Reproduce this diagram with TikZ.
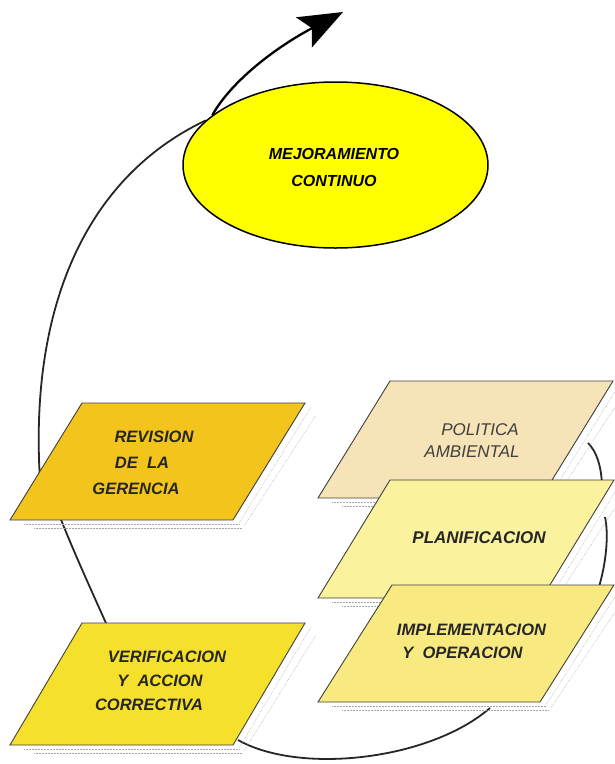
\documentclass[tikz,border=0pt]{standalone}
\usepackage{fontspec}
\setmainfont{Liberation Sans}
\usetikzlibrary{arrows.meta,shapes.geometric,backgrounds}
\definecolor{mejc}{HTML}{FFFF00}
\definecolor{revc}{HTML}{F2C41C}
\definecolor{verc}{HTML}{F5E02C}
\definecolor{polc}{HTML}{F6E4B8}
\definecolor{plac}{HTML}{FAF29C}
\definecolor{impc}{HTML}{F8EA80}
% #1 bottom-left x, #2 bottom y, #3 top-left x, #4 top y, #5 width, #6 fill
\newcommand\pgram[6]{%
  \draw[shd] (#1+#5+6,#2+3) -- (#3+#5+6,#4+4);
  \draw[shd] (#1+#5+11,#2+6) -- (#3+#5+11,#4+12);
  \draw[shd] (#1+14,#2+4) -- (#1+#5+6,#2+4);
  \draw[shd] (#1+24,#2+8) -- (#1+#5+9,#2+8);
  \filldraw[boxline,fill=#6] (#1,#2) -- (#1+#5,#2) -- (#3+#5,#4) -- (#3,#4) -- cycle;
}
\begin{document}
\begin{tikzpicture}[x=1pt,y=-1pt,
  shd/.style={gray!70,densely dotted,line width=0.5pt},
  boxline/.style={draw=black!75,line width=0.9pt},
  txt/.style={align=center,inner sep=0pt,text=black!85},
  loop/.style={line width=1.8pt,black!85},
  mejstyle/.style={ellipse,draw=black,line width=1.5pt,fill=mejc,
    minimum width=305pt,minimum height=166pt,inner sep=0pt}]
\useasboundingbox (0,0) rectangle (615,764);

% ---- boxes ----
\pgram{318}{498}{390}{381}{223}{polc}
\pgram{318}{598}{390}{480}{224}{plac}
\pgram{318}{702}{392}{585}{222}{impc}
\pgram{10}{520}{82}{403}{223}{revc}
\pgram{10}{745}{82}{623}{223}{verc}

% ---- texts ----
\node[txt,text=black!75,font=\itshape\fontsize{17}{22}\selectfont] (pol) at (476,441)
  {\rule{8pt}{0pt}POLITICA\\AMBIENTAL\rule{8pt}{0pt}};
\node[txt,font=\bfseries\itshape\fontsize{17}{24}\selectfont] (pla) at (479,538)
  {PLANIFICACION};
\node[txt,font=\bfseries\itshape\fontsize{16.5}{23}\selectfont] (imp) at (467,641)
  {\rule{9pt}{0pt}IMPLEMENTACION\\Y~~OPERACION\rule{9pt}{0pt}};
\node[txt,font=\bfseries\itshape\fontsize{16.5}{26}\selectfont] (rev) at (142,463)
  {\rule{24pt}{0pt}REVISION\\DE~~LA\\GERENCIA\rule{12pt}{0pt}};
\node[txt,font=\bfseries\itshape\fontsize{16.5}{24}\selectfont] (ver) at (160,681)
  {\rule{14pt}{0pt}VERIFICACION\\Y~~ACCION\\CORRECTIVA\rule{22pt}{0pt}};

% ---- ellipse ----
\node[mejstyle] (mej) at (335.5,165) {};
\node[txt,text=black,font=\bfseries\itshape\fontsize{16}{27}\selectfont] (mejt) at (334,167)
  {MEJORAMIENTO\\CONTINUO};

% ---- coordinates for connector ends ----
\coordinate (tip) at (343,12);
\coordinate (rev-in) at (42,505);
\coordinate (rev-b) at (58,512);
\coordinate (ver-t) at (110,632);
\coordinate (ver-b) at (238,740);
\coordinate (imp-b) at (490,708);
\coordinate (imp-t) at (598,590);
\coordinate (pol-r) at (588,443);
\coordinate (pla-t) at (602,484);
\coordinate (pla-r) at (605,517);

% ---- outgoing arrow ----
\draw[line width=2.3pt,black,-{Stealth[length=44pt,width=34pt,inset=9pt]}]
  (mej.158) .. controls (232,80) and (278,46) .. (tip);

% ---- loop behind the boxes ----
\begin{pgfonlayer}{background}
  \fill[white] (0,0) rectangle (615,764);
  \draw[loop] (rev-in) .. controls (24,320) and (80,180) .. (mej.161);
  \draw[loop] (ver-t) .. controls (92,592) and (72,548) .. (rev-b);
  \draw[loop] (imp-b) .. controls (430,760) and (300,775) .. (ver-b);
  \draw[loop] (pol-r) .. controls (597,452) and (601,466) .. (pla-t);
  \draw[loop] (pla-r) .. controls (609,535) and (606,565) .. (imp-t);
\end{pgfonlayer}
\end{tikzpicture}
\end{document}
